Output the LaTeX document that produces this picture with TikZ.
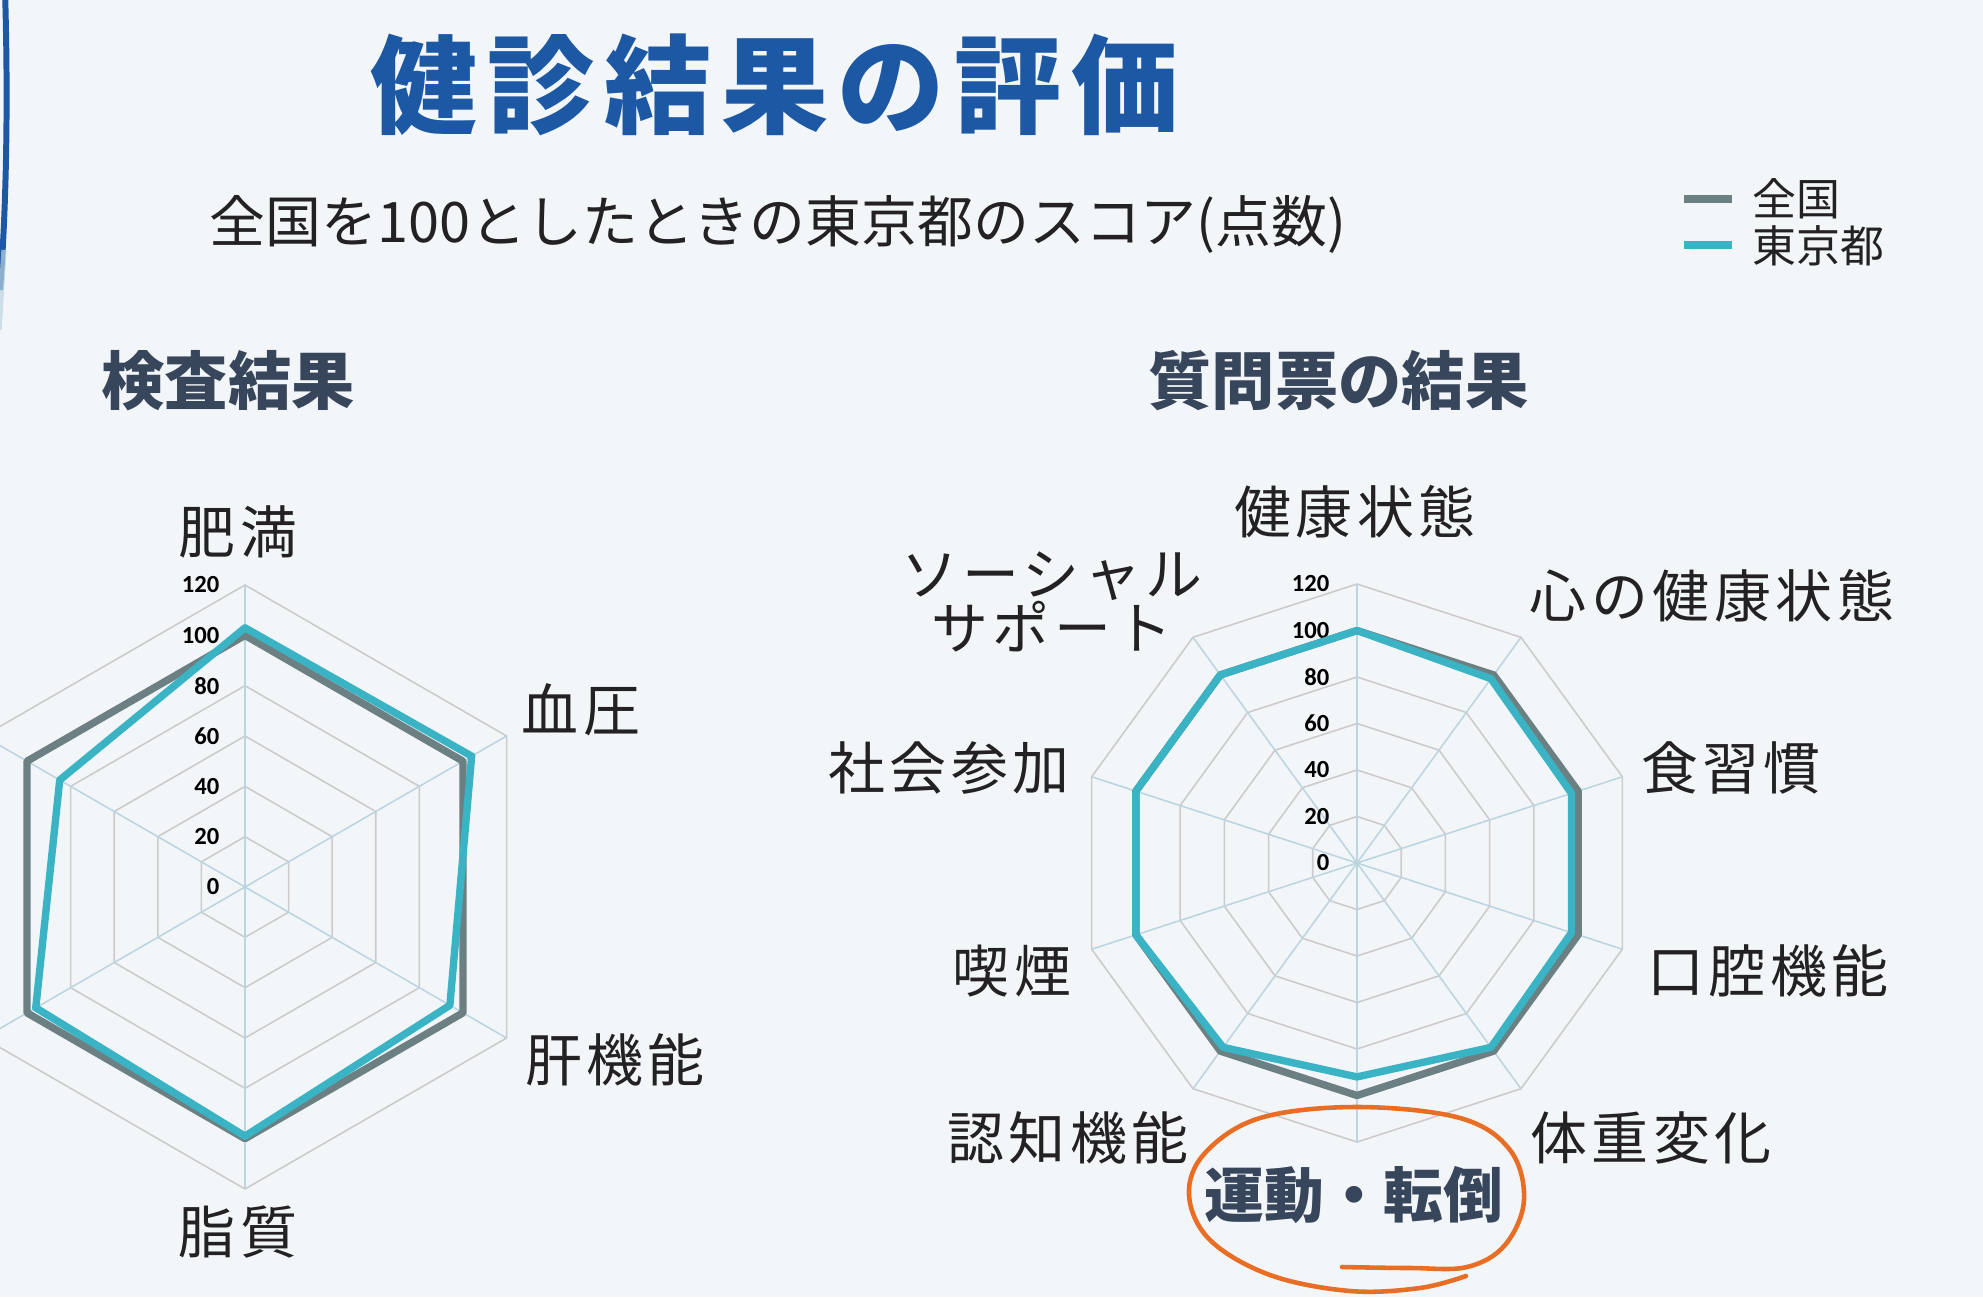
\documentclass[tikz,border=0pt]{standalone}
\usepackage{fontspec}
\newfontfamily\jpfont{Noto Sans CJK JP}
\newfontfamily\jpwide{Noto Sans CJK JP}[LetterSpace=8]
\newfontfamily\jptitle{Noto Sans CJK JP}[LetterSpace=9]
\newfontfamily\numfont{Carlito}
\usetikzlibrary{positioning}
\definecolor{bgcol}{RGB}{243,246,248}
\definecolor{titleblue}{RGB}{28,88,164}
\definecolor{headslate}{RGB}{56,70,92}
\definecolor{inkcol}{RGB}{35,33,35}
\definecolor{natgray}{RGB}{108,128,132}
\definecolor{tkyteal}{RGB}{58,180,196}
\definecolor{gridgray}{RGB}{204,202,204}
\definecolor{spokeblue}{RGB}{188,213,224}
\definecolor{markorange}{RGB}{232,110,38}
\pgfmathsetmacro\uL{302/120}
\pgfmathsetmacro\uR{279/120}
\tikzset{
  gridline/.style={draw=gridgray, line width=0.45pt},
  spokeline/.style={draw=spokeblue, line width=0.45pt},
  natline/.style={draw=natgray, line width=2.1pt, line join=round},
  tkyline/.style={draw=tkyteal, line width=2.1pt, line join=round},
  axlabel/.style={font=\numfont\bfseries\fontsize{7pt}{8pt}\selectfont, anchor=east, inner sep=0pt},
  itemlabel/.style={font=\jpwide\fontsize{16.2pt}{15.4pt}\selectfont, text=inkcol, inner sep=0pt},
  heading/.style={font=\jpfont\bfseries\fontsize{18pt}{20pt}\selectfont, text=headslate, inner sep=0pt, anchor=west},
  legtext/.style={font=\jpfont\fontsize{12.5pt}{14pt}\selectfont, text=inkcol, inner sep=0pt}
}
\begin{document}
\begin{tikzpicture}[x=0.1mm,y=-0.1mm]
    \useasboundingbox (0,0) rectangle (1983,1297);
    \fill[bgcol] (0,0) rectangle (1983,1297);
    \clip (0,0) rectangle (1983,1297);

    %% blue edge on the left
    \draw[line width=1.7pt, titleblue] (5,-10) .. controls (8,90) and (7,200) .. (0,290);
    \draw[line width=1.5pt, spokeblue, opacity=.7] (4,250) .. controls (2,290) .. (-1,330);

    %%%%%%%%%%%%%%%%
    %% titles
    \node[font=\jptitle\bfseries\fontsize{30.5pt}{34pt}\selectfont, text=titleblue,
      anchor=west, inner sep=0pt] (title) at (370,85) {健診結果の評価};
    \node[font=\jpfont\fontsize{15.9pt}{19pt}\selectfont, text=inkcol,
      anchor=west, inner sep=0pt] (subtitle) at (209,224) {全国を100としたときの東京都のスコア(点数)};
    \node[heading] (headLeft) at (101,381) {検査結果};
    \node[heading] (headRight) at (1148,381) {質問票の結果};

    %% legend
    \node[legtext, anchor=west] (legNat) at (1752,199) {全国};
    \node[legtext, below=0.5mm of legNat.south west, anchor=north west] (legTky) {東京都};
    \coordinate (natA) at (1684,199);
    \coordinate (natB) at (1732,199);
    \coordinate (tkyA) at (1684,245);
    \coordinate (tkyB) at (1732,245);
    \draw[natline] (natA) -- (natB);
    \draw[tkyline] (tkyA) -- (tkyB);

    %%%%%%%%%%%%%%%%
    %% left radar: 6 axes
    \begin{scope}[shift={(245,887)}, yscale=-1]
      \foreach \k in {1,...,6}
        \draw[gridline] plot[samples at={90,30,...,-210}] (\x:{\k*20*\uL}) -- cycle;
      \foreach \a in {90,30,...,-210}
        \draw[spokeline] (0,0) -- (\a:{120*\uL});
      \foreach \v in {0,20,...,120}
        \node[axlabel] (tickL\v) at (-25,{\v*\uL}) {\v};

      %% zenkoku = 100
      \draw[natline] plot[samples at={90,30,...,-210}] (\x:{100*\uL}) -- cycle;
      %% tokyo
      \draw[tkyline] (90:{103*\uL}) -- (30:{104*\uL}) -- (-30:{94*\uL})
        -- (-90:{99*\uL}) -- (-150:{96*\uL}) -- (150:{85*\uL}) -- cycle;
    \end{scope}

    \node[itemlabel] (lObesity) at (238,532) {肥満};
    \node[itemlabel] (lPressure) at (581,710) {血圧};
    \node[itemlabel] (lLiver) at (615,1060) {肝機能};
    \node[itemlabel] (lLipid) at (238,1232) {脂質};

    %%%%%%%%%%%%%%%%
    %% right radar: 10 axes
    \begin{scope}[shift={(1357,863)}, yscale=-1]
      \foreach \k in {1,...,6}
        \draw[gridline] plot[samples at={90,54,...,-234}] (\x:{\k*20*\uR}) -- cycle;
      \foreach \a in {90,54,...,-234}
        \draw[spokeline] (0,0) -- (\a:{120*\uR});
      \foreach \v in {0,20,...,120}
        \node[axlabel] (tickR\v) at (-27,{\v*\uR}) {\v};

      %% zenkoku = 100
      \draw[natline] plot[samples at={90,54,...,-234}] (\x:{100*\uR}) -- cycle;
      %% tokyo
      \draw[tkyline] (90:{100*\uR}) -- (54:{98*\uR}) -- (18:{97*\uR})
        -- (-18:{97*\uR}) -- (-54:{98*\uR}) -- (-90:{92*\uR})
        -- (-126:{98*\uR}) -- (-162:{100*\uR}) -- (162:{100*\uR})
        -- (126:{100*\uR}) -- cycle;
    \end{scope}

    \node[itemlabel] (rHealth) at (1355,512) {健康状態};
    \node[itemlabel] (rMental) at (1712,596) {心の健康状態};
    \node[itemlabel] (rDiet) at (1731,768) {食習慣};
    \node[itemlabel] (rOral) at (1768,971) {口腔機能};
    \node[itemlabel] (rWeight) at (1651,1138) {体重変化};
    \node[itemlabel] (rCognitive) at (1068,1138) {認知機能};
    \node[itemlabel] (rSmoking) at (1012,971) {喫煙};
    \node[itemlabel] (rSocial) at (949,768) {社会参加};
    \node[itemlabel, align=center] (rSupport) at (1052,602) {ソーシャル\\サポート};
    \node[font=\jpfont\bfseries\fontsize{17pt}{19pt}\selectfont, text=headslate,
      inner sep=0pt] (rMotion) at (1354,1195) {運動・転倒};

    %% orange hand ring
    \draw[markorange, line width=1.3pt, line cap=round] plot[smooth, tension=.6] coordinates {
      (1342,1267) (1410,1268) (1467,1267) (1505,1245) (1524,1200) (1510,1150)
      (1460,1118) (1357,1107) (1260,1118) (1205,1153) (1189,1195) (1210,1240)
      (1270,1275) (1350,1291) (1420,1288) (1466,1276)};

\end{tikzpicture}
\end{document}
